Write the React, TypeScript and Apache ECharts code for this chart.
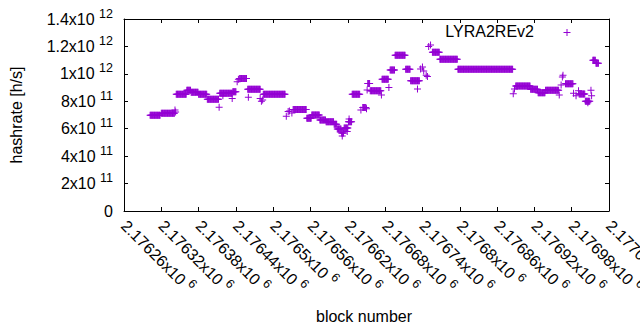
import React, { useEffect, useRef } from "react";
import * as echarts from "echarts";

// Axis ranges
const xMin = 2176260;
const xMax = 2177040;
const xStep = 60;
const yMin = 0;
const yMax = 1.4e12;
const yStep = 2e11;

const seriesName = "LYRA2REv2";
const xTitle = "block number";
const yTitle = "hashrate [h/s]";

// Runs of consecutive blocks that share one hashrate value (one point per block)
const runStartBlocks = [
  2176302, 2176320, 2176344, 2176361, 2176368, 2176380, 2176394, 2176414, 2176435, 2176446,
  2176459, 2176484, 2176532, 2176554, 2176562, 2176575, 2176585, 2176598, 2176603, 2176610,
  2176614, 2176621, 2176627, 2176644, 2176652, 2176656, 2176675, 2176688, 2176696, 2176713,
  2176721, 2176756, 2176768, 2176797, 2176890, 2176914, 2176926, 2176938, 2176970, 2176992,
  2177002, 2177014, 2177019,
];
const runEndBlocks = [
  2176318, 2176341, 2176360, 2176367, 2176379, 2176393, 2176412, 2176434, 2176440, 2176457,
  2176479, 2176519, 2176553, 2176561, 2176574, 2176584, 2176597, 2176602, 2176609, 2176613,
  2176620, 2176626, 2176639, 2176649, 2176655, 2176673, 2176685, 2176695, 2176712, 2176720,
  2176735, 2176767, 2176796, 2176885, 2176913, 2176925, 2176937, 2176959, 2176982, 2177001,
  2177009, 2177018, 2177023,
];
const runHashrates = [
  6.98e11, 7.12e11, 8.51e11, 8.8e11, 8.66e11, 8.51e11, 8.15e11, 8.58e11, 8.7e11, 9.67e11,
  8.87e11, 8.51e11, 7.41e11, 6.76e11, 7.0e11, 6.64e11, 6.51e11, 6.32e11, 5.98e11, 5.69e11,
  6.05e11, 6.5e11, 8.51e11, 7.55e11, 9.3e11, 8.77e11, 9.6e11, 1.028e12, 1.135e12, 1.033e12,
  9.5e11, 1.157e12, 1.106e12, 1.033e12, 9.11e11, 8.87e11, 8.63e11, 8.8e11, 9.28e11, 8.53e11,
  8.0e11, 1.1e12, 1.077e12,
];

// Isolated blocks
const singleBlocks = [
  2176342, 2176343, 2176413, 2176419, 2176434, 2176442, 2176444, 2176460, 2176479, 2176481,
  2176483, 2176521, 2176524, 2176526, 2176530, 2176611, 2176619, 2176622, 2176641, 2176650,
  2176651, 2176674, 2176686, 2176732, 2176737, 2176740, 2176742, 2176746, 2176748, 2176750,
  2176753, 2176886, 2176888, 2176960, 2176963, 2176965, 2176966, 2176983, 2176987, 2176991,
  2177006, 2177011, 2177012,
];
const singleHashrates = [
  7.36e11, 7.22e11, 7.56e11, 8.4e11, 8.2e11, 9.43e11, 9.6e11, 8.29e11, 8.2e11, 8.0e11,
  8.1e11, 6.9e11, 7.25e11, 7.3e11, 7.15e11, 5.47e11, 5.8e11, 6.7e11, 7.37e11, 7.46e11,
  8.82e11, 8.45e11, 9.0e11, 8.9e11, 1.036e12, 1.05e12, 1.02e12, 9.9e11, 9.8e11, 1.2e12,
  1.21e12, 8.55e11, 8.9e11, 8.46e11, 9.19e11, 9.77e11, 9.9e11, 8.58e11, 8.4e11, 8.77e11,
  7.9e11, 8.8e11, 8.4e11,
];

const COLOR = "#9400d3";
const FONT = '"Liberation Sans", Arial, sans-serif';
const PLUS = "path://M3,0H4V3H7V4H4V7H3V4H0V3H3Z";

function sciLabel(v: number, digits: number): string {
  if (v === 0) return "0";
  const e = Math.floor(Math.log10(Math.abs(v)) + 1e-9);
  const m = parseFloat((v / Math.pow(10, e)).toPrecision(digits));
  return `${m}x10 {sup|${e}}`;
}

const supRich = {
  sup: {
    fontSize: 12.5,
    fontFamily: FONT,
    color: "#000",
    padding: [0, 0, 11, 0],
  },
};

export default function App() {
  const ref = useRef<HTMLDivElement>(null);
  useEffect(() => {
    document.body.style.margin = "0";
    if (!ref.current) return;
    const chart = echarts.init(ref.current, null, { renderer: "svg" });

    const points: [number, number][] = [];
    runStartBlocks.forEach((s, i) => {
      for (let b = s; b <= runEndBlocks[i]; b++) points.push([b, runHashrates[i]]);
    });
    singleBlocks.forEach((b, i) => points.push([b, singleHashrates[i]]));

    const tick = { show: true, inside: true, length: 4, lineStyle: { color: "#000", width: 1 } };
    const line = { show: true, onZero: false, lineStyle: { color: "#000", width: 1 } };

    chart.setOption({
      animation: false,
      backgroundColor: "#fff",
      textStyle: { fontFamily: FONT },
      grid: { left: 124, right: 31, top: 19, bottom: 119, containLabel: false, outerBoundsMode: "none" },
      xAxis: [
        {
          type: "value",
          min: xMin,
          max: xMax,
          interval: xStep,
          position: "bottom",
          axisLine: line,
          axisTick: tick,
          splitLine: { show: false },
          axisLabel: {
            rotate: -45,
            margin: 12,
            fontSize: 16,
            lineHeight: 16,
            color: "#000",
            fontFamily: FONT,
            showMinLabel: true,
            showMaxLabel: true,
            hideOverlap: false,
            formatter: (v: number) => sciLabel(v, 7),
            rich: supRich,
          },
        },
        {
          type: "value",
          min: xMin,
          max: xMax,
          interval: xStep,
          position: "top",
          axisLine: line,
          axisTick: tick,
          splitLine: { show: false },
          axisLabel: { show: false },
        },
      ],
      yAxis: [
        {
          type: "value",
          min: yMin,
          max: yMax,
          interval: yStep,
          position: "left",
          axisLine: line,
          axisTick: tick,
          splitLine: { show: false },
          axisLabel: {
            margin: 11,
            fontSize: 16,
            lineHeight: 16,
            color: "#000",
            fontFamily: FONT,
            formatter: (v: number) => sciLabel(v, 3),
            rich: supRich,
          },
        },
        {
          type: "value",
          min: yMin,
          max: yMax,
          interval: yStep,
          position: "right",
          axisLine: line,
          axisTick: tick,
          splitLine: { show: false },
          axisLabel: { show: false },
        },
      ],
      series: [
        {
          name: seriesName,
          type: "scatter",
          xAxisIndex: 0,
          yAxisIndex: 0,
          symbol: PLUS,
          symbolSize: 7,
          itemStyle: { color: COLOR, opacity: 1 },
          data: points,
          emphasis: { disabled: true },
        },
      ],
      graphic: [
        {
          type: "text",
          x: 16.5,
          y: 115,
          rotation: Math.PI / 2,
          style: {
            text: yTitle,
            fontSize: 16,
            fontFamily: FONT,
            fill: "#000",
            align: "center",
            verticalAlign: "middle",
            textAlign: "center",
            textVerticalAlign: "middle",
          },
        },
        {
          type: "text",
          x: 364,
          y: 316,
          style: {
            text: xTitle,
            fontSize: 16,
            fontFamily: FONT,
            fill: "#000",
            align: "center",
            verticalAlign: "middle",
            textAlign: "center",
            textVerticalAlign: "middle",
          },
        },
        {
          type: "text",
          x: 534,
          y: 31,
          style: {
            text: seriesName,
            fontSize: 16,
            fontFamily: FONT,
            fill: "#000",
            align: "right",
            verticalAlign: "middle",
            textAlign: "right",
            textVerticalAlign: "middle",
          },
        },
        {
          type: "line",
          shape: { x1: 563.5, y1: 32.5, x2: 570.5, y2: 32.5 },
          style: { stroke: COLOR, lineWidth: 1 },
        },
        {
          type: "line",
          shape: { x1: 567, y1: 29, x2: 567, y2: 36 },
          style: { stroke: COLOR, lineWidth: 1 },
        },
      ],
    });
    return () => chart.dispose();
  }, []);
  return <div ref={ref} style={{ width: 640, height: 330, position: "absolute", left: 0, top: 0 }} />;
}
